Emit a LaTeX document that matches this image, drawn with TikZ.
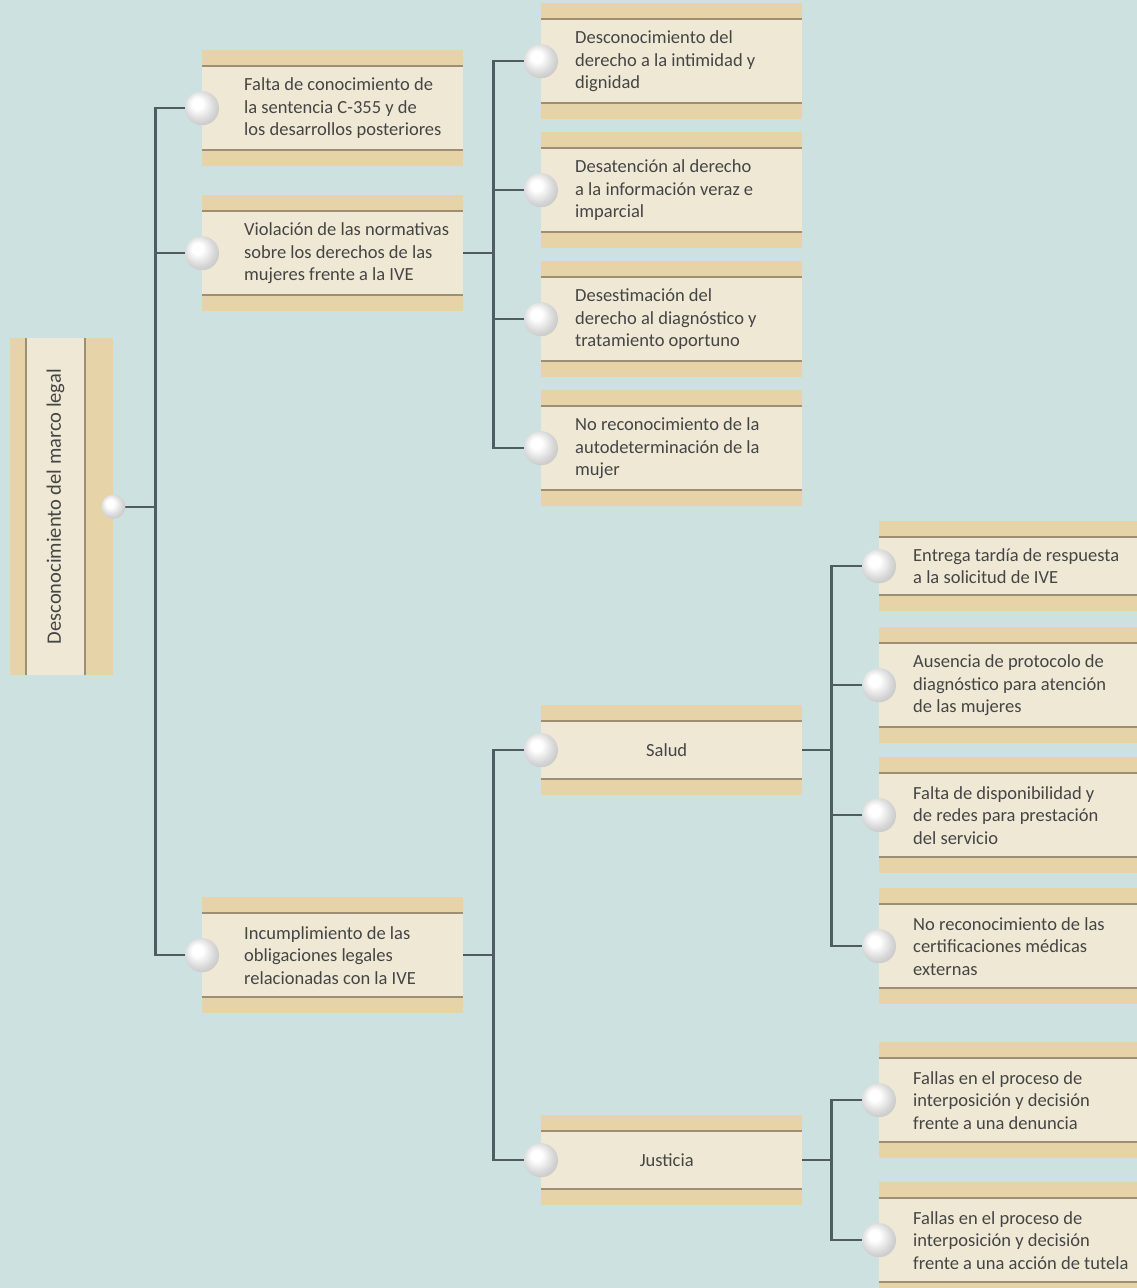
\documentclass[tikz,border=0pt]{standalone}
\usepackage{fontspec}
\setmainfont{Carlito}
\usetikzlibrary{positioning, backgrounds, calc}
\definecolor{kBg}{HTML}{CDE1E1}
\definecolor{kBand}{HTML}{E7D3A8}
\definecolor{kCream}{HTML}{EEE8D5}
\definecolor{kRim}{HTML}{9C8F73}
\definecolor{kWire}{HTML}{4F5C60}
\definecolor{kInk}{HTML}{454545}
\pgfdeclareradialshading{pearl}{\pgfpoint{-8bp}{8bp}}{color(0bp)=(white); color(8bp)=(white); color(22bp)=(gray!30); color(40bp)=(gray!62); color(50bp)=(gray!72)}

\begin{document}
\begin{tikzpicture}[x=1pt, y=-1pt, font=\fontsize{18.5}{22.5}\selectfont,
      wire/.style={draw=kWire, line width=2.2pt},
      cbox/.style={rectangle, inner sep=0, anchor=north west, minimum width=261pt, minimum height=116pt, fill=kBand,
        path picture={
          \fill[kCream] ([yshift=-16pt]path picture bounding box.north west) rectangle ([yshift=16pt]path picture bounding box.south east);
          \draw[kRim, line width=1.6pt] ([yshift=-16pt]path picture bounding box.north west) -- ([yshift=-16pt]path picture bounding box.north east)
            ([yshift=16pt]path picture bounding box.south west) -- ([yshift=16pt]path picture bounding box.south east);}},
      cboxs/.style={cbox, minimum height=90pt},
      rootbox/.style={rectangle, inner sep=0, anchor=north west, minimum width=103pt, minimum height=337pt, fill=kBand,
        path picture={
          \fill[kCream] ([xshift=16pt]path picture bounding box.south west) rectangle ([xshift=-28pt]path picture bounding box.north east);
          \draw[kRim, line width=1.6pt] ([xshift=16pt]path picture bounding box.south west) -- ([xshift=16pt]path picture bounding box.north west)
            ([xshift=-28pt]path picture bounding box.south east) -- ([xshift=-28pt]path picture bounding box.north east);}},
      txt/.style={anchor=west, align=left, inner sep=0, text=kInk, xshift=34pt},
      knob/.style={circle, minimum size=34pt, inner sep=0, shading=pearl}]
  \useasboundingbox (0,0) rectangle (1137,1288);
  \begin{scope}[on background layer]
    \fill[kBg] (0,0) rectangle (1137,1288);
  \end{scope}
  % root
  \node[rootbox] (r0) at (10,338) {};
  \node[rotate=90, inner sep=0, text=kInk, font=\fontsize{20.5}{24}\selectfont] (r0t) at ([xshift=45.5pt]r0.west) {Desconocimiento del marco legal};
  \node[knob, minimum size=24pt] (r0-o) at (r0.east) {};
  % first level
  \node[cbox] (b1) at (202,50) {};
  \node[txt, xshift=8pt] (b1t) at (b1.west) {Falta de conocimiento de\\la sentencia C-355 y de\\los desarrollos posteriores};
  \node[cbox] (b2) at (202,195) {};
  \node[txt, xshift=8pt] (b2t) at (b2.west) {Violación de las normativas\\sobre los derechos de las\\mujeres frente a la IVE};
  \node[cbox] (b3) at (202,897) {};
  \node[txt, xshift=8pt] (b3t) at (b3.west) {Incumplimiento de las\\obligaciones legales\\relacionadas con la IVE};
  % second level
  \node[cbox] (c1) at (541,3) {};
  \node[txt] (c1t) at (c1.west) {Desconocimiento del\\derecho a la intimidad y\\dignidad};
  \node[cbox] (c2) at (541,132) {};
  \node[txt] (c2t) at (c2.west) {Desatención al derecho\\a la información veraz e\\imparcial};
  \node[cbox] (c3) at (541,261) {};
  \node[txt] (c3t) at (c3.west) {Desestimación del\\derecho al diagnóstico y\\tratamiento oportuno};
  \node[cbox] (c4) at (541,390) {};
  \node[txt] (c4t) at (c4.west) {No reconocimiento de la\\autodeterminación de la\\mujer};
  \node[cboxs] (s1) at (541,705) {};
  \node[inner sep=0, text=kInk] (s1t) at ([xshift=-5pt]s1.center) {Salud};
  \node[cboxs] (s2) at (541,1115) {};
  \node[inner sep=0, text=kInk] (s2t) at ([xshift=-5pt]s2.center) {Justicia};
  % third level
  \node[cboxs] (d1) at (879,521) {};
  \node[txt] (d1t) at (d1.west) {Entrega tardía de respuesta\\a la solicitud de IVE};
  \node[cbox] (d2) at (879,627) {};
  \node[txt] (d2t) at (d2.west) {Ausencia de protocolo de\\diagnóstico para atención\\de las mujeres};
  \node[cbox] (d3) at (879,757) {};
  \node[txt] (d3t) at (d3.west) {Falta de disponibilidad y\\de redes para prestación\\del servicio};
  \node[cbox] (d4) at (879,888) {};
  \node[txt] (d4t) at (d4.west) {No reconocimiento de las\\certificaciones médicas\\externas};
  \node[cbox] (e1) at (879,1042) {};
  \node[txt] (e1t) at (e1.west) {Fallas en el proceso de\\interposición y decisión\\frente a una denuncia};
  \node[cbox] (e2) at (879,1182) {};
  \node[txt] (e2t) at (e2.west) {Fallas en el proceso de\\interposición y decisión\\frente a una acción de tutela};
  \foreach \n in {b1,b2,b3,c1,c2,c3,c4,s1,s2,d1,d2,d3,d4,e1,e2}
    \node[knob] (\n-o) at (\n.west) {};
  % connectors
  \begin{scope}[on background layer]
    \draw[wire] (r0-o.center) -- ++(42,0) coordinate (t1);
    \foreach \n in {b1,b2,b3} \draw[wire] (t1) |- (\n-o.center);
    \draw[wire] (b2.east) -- ++(30,0) coordinate (t2);
    \foreach \n in {c1,c2,c3,c4} \draw[wire] (t2) |- (\n-o.center);
    \draw[wire] (b3.east) -- ++(30,0) coordinate (t3);
    \foreach \n in {s1,s2} \draw[wire] (t3) |- (\n-o.center);
    \draw[wire] (s1.east) -- ++(29,0) coordinate (t4);
    \foreach \n in {d1,d2,d3,d4} \draw[wire] (t4) |- (\n-o.center);
    \draw[wire] (s2.east) -- ++(29,0) coordinate (t5);
    \foreach \n in {e1,e2} \draw[wire] (t5) |- (\n-o.center);
  \end{scope}
\end{tikzpicture}
\end{document}
